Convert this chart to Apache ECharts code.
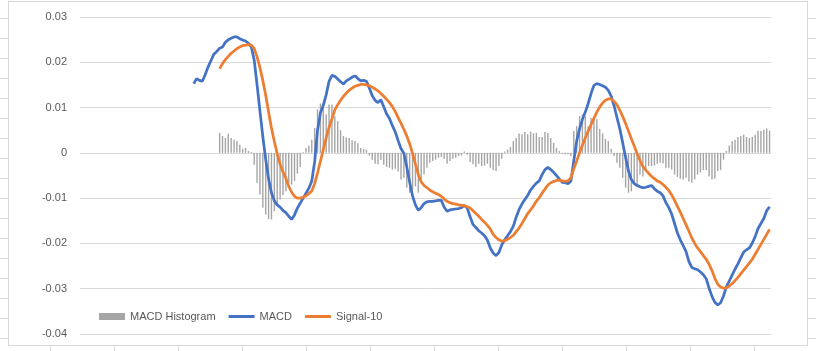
<!DOCTYPE html>
<html>
<head>
<meta charset="utf-8">
<script src="https://cdn.jsdelivr.net/npm/echarts@6/dist/echarts.min.js"></script>
<style>
  html, body { margin: 0; padding: 0; background: #fff; }
  #chart { width: 816px; height: 351px; }
</style>
</head>
<body>
<div id="chart"></div>
<script>
// 240 daily rows, MACD begins at row 39, signal/histogram at row 48
const categoryCount = 240;
const macdStart = 39;
const signalStart = 48;

const macd = [
  0.0153, 0.0164, 0.0160, 0.0158, 0.0173, 0.0190, 0.0204, 0.0218, 0.0224, 0.0231,
  0.0234, 0.0244, 0.0250, 0.0253, 0.0256, 0.0256, 0.0252, 0.0249, 0.0247, 0.0242,
  0.0234, 0.0205, 0.0150, 0.0092, 0.0036, -0.0015, -0.0058, -0.0088, -0.0106, -0.0115,
  -0.0120, -0.0127, -0.0132, -0.0140, -0.0147, -0.0137, -0.0122, -0.0111, -0.0100, -0.0089,
  -0.0078, -0.0062, -0.0020, 0.0050, 0.0088, 0.0105, 0.0128, 0.0158, 0.0171, 0.0169,
  0.0163, 0.0157, 0.0152, 0.0159, 0.0163, 0.0167, 0.0170, 0.0164, 0.0159, 0.0160,
  0.0158, 0.0143, 0.0126, 0.0116, 0.0111, 0.0117, 0.0102, 0.0086, 0.0076, 0.0060,
  0.0046, 0.0027, 0.0009, -0.0001, -0.0031, -0.0065, -0.0095, -0.0115, -0.0127, -0.0121,
  -0.0112, -0.0108, -0.0107, -0.0107, -0.0106, -0.0105, -0.0105, -0.0120, -0.0129, -0.0126,
  -0.0125, -0.0124, -0.0123, -0.0121, -0.0116, -0.0122, -0.0141, -0.0158, -0.0165, -0.0172,
  -0.0177, -0.0183, -0.0193, -0.0210, -0.0221, -0.0227, -0.0220, -0.0203, -0.0192, -0.0183,
  -0.0174, -0.0162, -0.0142, -0.0125, -0.0113, -0.0103, -0.0094, -0.0082, -0.0074, -0.0067,
  -0.0062, -0.0048, -0.0037, -0.0032, -0.0037, -0.0043, -0.0050, -0.0058, -0.0065, -0.0066,
  -0.0068, -0.0062, -0.0018, 0.0026, 0.0053, 0.0074, 0.0090, 0.0109, 0.0131, 0.0149,
  0.0153, 0.0151, 0.0148, 0.0145, 0.0138, 0.0125, 0.0104, 0.0078, 0.0053, 0.0022,
  -0.0010, -0.0040, -0.0059, -0.0068, -0.0072, -0.0075, -0.0077, -0.0076, -0.0074, -0.0072,
  -0.0079, -0.0085, -0.0088, -0.0095, -0.0110, -0.0121, -0.0135, -0.0156, -0.0177, -0.0192,
  -0.0205, -0.0218, -0.0240, -0.0253, -0.0256, -0.0258, -0.0263, -0.0269, -0.0278, -0.0299,
  -0.0317, -0.0330, -0.0336, -0.0331, -0.0316, -0.0296, -0.0283, -0.0270, -0.0257, -0.0245,
  -0.0232, -0.0219, -0.0214, -0.0210, -0.0199, -0.0185, -0.0167, -0.0156, -0.0145, -0.0128,
  -0.0119
];

const signal10 = [
  0.0186, 0.0197, 0.0206, 0.0213, 0.0220, 0.0225, 0.0230, 0.0234, 0.0237, 0.0238,
  0.0239, 0.0238, 0.0230, 0.0212, 0.0188, 0.0160, 0.0127, 0.0090, 0.0055, 0.0025,
  -0.0002, -0.0025, -0.0042, -0.0056, -0.0074, -0.0087, -0.0096, -0.0100, -0.0100, -0.0098,
  -0.0095, -0.0090, -0.0084, -0.0068, -0.0044, -0.0019, 0.0007, 0.0033, 0.0056, 0.0075,
  0.0095, 0.0106, 0.0116, 0.0125, 0.0132, 0.0138, 0.0143, 0.0147, 0.0149, 0.0151,
  0.0151, 0.0150, 0.0148, 0.0145, 0.0141, 0.0137, 0.0131, 0.0125, 0.0118, 0.0111,
  0.0102, 0.0091, 0.0078, 0.0065, 0.0052, 0.0037, 0.0020, -0.0001, -0.0025, -0.0048,
  -0.0064, -0.0072, -0.0077, -0.0082, -0.0086, -0.0089, -0.0092, -0.0096, -0.0102, -0.0107,
  -0.0110, -0.0112, -0.0113, -0.0115, -0.0116, -0.0117, -0.0119, -0.0122, -0.0128, -0.0134,
  -0.0140, -0.0147, -0.0153, -0.0160, -0.0168, -0.0180, -0.0187, -0.0192, -0.0195, -0.0194,
  -0.0191, -0.0187, -0.0182, -0.0174, -0.0166, -0.0156, -0.0145, -0.0134, -0.0126, -0.0117,
  -0.0107, -0.0099, -0.0089, -0.0080, -0.0071, -0.0066, -0.0063, -0.0061, -0.0060, -0.0062,
  -0.0063, -0.0062, -0.0055, -0.0035, -0.0018, 0.0000, 0.0017, 0.0033, 0.0048, 0.0062,
  0.0076, 0.0090, 0.0101, 0.0110, 0.0116, 0.0119, 0.0119, 0.0114, 0.0106, 0.0094,
  0.0080, 0.0065, 0.0048, 0.0031, 0.0015, -0.0002, -0.0017, -0.0030, -0.0038, -0.0045,
  -0.0052, -0.0057, -0.0062, -0.0065, -0.0070, -0.0076, -0.0083, -0.0093, -0.0105, -0.0118,
  -0.0131, -0.0145, -0.0159, -0.0173, -0.0188, -0.0200, -0.0210, -0.0218, -0.0227, -0.0235,
  -0.0246, -0.0260, -0.0277, -0.0290, -0.0296, -0.0299, -0.0298, -0.0294, -0.0289, -0.0282,
  -0.0275, -0.0267, -0.0259, -0.0251, -0.0243, -0.0235, -0.0224, -0.0213, -0.0202, -0.0191,
  -0.0180, -0.0169
];

const histogram = [
  0.0044, 0.0037, 0.0033, 0.0042, 0.0033, 0.0029, 0.0026, 0.0018, 0.0009, 0.0011,
  0.0004, 0.0002, -0.0026, -0.0066, -0.0092, -0.0121, -0.0136, -0.0146, -0.0147, -0.0129,
  -0.0118, -0.0103, -0.0093, -0.0085, -0.0066, -0.0070, -0.0062, -0.0046, -0.0031, 0.0002,
  0.0011, 0.0016, 0.0029, 0.0055, 0.0096, 0.0109, 0.0099, 0.0085, 0.0107, 0.0107,
  0.0081, 0.0070, 0.0050, 0.0037, 0.0034, 0.0033, 0.0028, 0.0026, 0.0021, 0.0011,
  0.0009, 0.0007, -0.0006, -0.0015, -0.0024, -0.0025, -0.0015, -0.0026, -0.0031, -0.0033,
  -0.0037, -0.0035, -0.0041, -0.0059, -0.0055, -0.0077, -0.0088, -0.0081, -0.0074, -0.0088,
  -0.0059, -0.0048, -0.0033, -0.0022, -0.0018, -0.0015, -0.0011, -0.0009, -0.0013, -0.0024,
  -0.0018, -0.0013, -0.0011, -0.0007, -0.0006, 0.0003, -0.0004, -0.0020, -0.0025, -0.0031,
  -0.0024, -0.0029, -0.0028, -0.0024, -0.0033, -0.0038, -0.0040, -0.0029, -0.0013, 0.0003,
  0.0007, 0.0013, 0.0026, 0.0033, 0.0043, 0.0041, 0.0046, 0.0041, 0.0047, 0.0043,
  0.0044, 0.0035, 0.0035, 0.0046, 0.0044, 0.0033, 0.0022, 0.0011, 0.0004, -0.0002,
  -0.0003, -0.0003, -0.0007, 0.0048, 0.0059, 0.0081, 0.0085, 0.0081, 0.0059, 0.0077,
  0.0079, 0.0074, 0.0053, 0.0043, 0.0031, 0.0026, 0.0009, -0.0007, -0.0022, -0.0033,
  -0.0055, -0.0077, -0.0088, -0.0085, -0.0066, -0.0074, -0.0048, -0.0052, -0.0037, -0.0029,
  -0.0029, -0.0028, -0.0024, -0.0022, -0.0023, -0.0033, -0.0033, -0.0037, -0.0048, -0.0053,
  -0.0057, -0.0059, -0.0055, -0.0063, -0.0066, -0.0059, -0.0048, -0.0043, -0.0038, -0.0038,
  -0.0052, -0.0059, -0.0057, -0.0040, -0.0038, -0.0015, 0.0004, 0.0016, 0.0026, 0.0029,
  0.0035, 0.0037, 0.0040, 0.0035, 0.0033, 0.0035, 0.0040, 0.0049, 0.0048, 0.0051,
  0.0054, 0.0049
];

const categories = Array.from({ length: categoryCount }, (_, i) => String(i + 1));
const pad = (arr, start) => new Array(start).fill(null).concat(arr);

// outer frame of the sheet behind the chart (plain decoration)
const frameColor = "#d9d9d9";
const frame = [];
const addLine = (x1, y1, x2, y2) =>
  frame.push({ type: "line", silent: true, z: -1,
    shape: { x1, y1, x2, y2 }, style: { stroke: frameColor, lineWidth: 1 } });
addLine(8, 1.5, 808, 1.5);
addLine(8.5, 1, 8.5, 346);
addLine(807.5, 1, 807.5, 346);
addLine(8, 345.5, 808, 345.5);
for (let y = 18.5; y < 345; y += 20) {
  addLine(0, y, 8, y);
  addLine(808, y, 816, y);
}
for (let x = 50.5; x < 800; x += 64) {
  addLine(x, 345, x, 351);
}

const textColor = "#595959";
const font = "Liberation Sans";
// thin stroke legend icon for the line series (box kept 26x7 by the outer moves)
const lineIcon = "path://M0,0 M0,2 L26,2 L26,5 L0,5 Z M26,7";

const chart = echarts.init(document.getElementById("chart"));
chart.setOption({
  animation: false,
  backgroundColor: "#fff",
  graphic: frame,
  grid: { left: 80, right: 45, top: 17, bottom: 17 },
  legend: {
    left: 94,
    top: 306,
    itemWidth: 26,
    itemHeight: 7,
    itemGap: 13,
    textStyle: { color: textColor, fontSize: 11, fontFamily: font },
    data: [
      { name: "MACD Histogram", icon: "rect" },
      { name: "MACD", icon: lineIcon },
      { name: "Signal-10", icon: lineIcon }
    ]
  },
  xAxis: {
    type: "category",
    data: categories,
    axisLine: { show: false },
    axisTick: { show: false },
    axisLabel: { show: false },
    splitLine: { show: false }
  },
  yAxis: {
    type: "value",
    min: -0.04,
    max: 0.03,
    interval: 0.01,
    axisLine: { show: false },
    axisTick: { show: false },
    axisLabel: {
      color: textColor,
      fontSize: 11,
      fontFamily: font,
      margin: 13,
      formatter: (v) => String(+v.toFixed(2))
    },
    splitLine: { lineStyle: { color: "#d9d9d9", width: 1 } }
  },
  series: [
    {
      name: "MACD Histogram",
      type: "bar",
      data: pad(histogram, signalStart),
      barWidth: 1.4,
      itemStyle: { color: "#a5a5a5" }
    },
    {
      name: "MACD",
      type: "line",
      data: pad(macd, macdStart),
      symbol: "none",
      lineStyle: { color: "#4472c4", width: 2.75 },
      itemStyle: { color: "#4472c4" }
    },
    {
      name: "Signal-10",
      type: "line",
      data: pad(signal10, signalStart),
      symbol: "none",
      lineStyle: { color: "#ed7d31", width: 2.75 },
      itemStyle: { color: "#ed7d31" }
    }
  ]
});
</script>
</body>
</html>
